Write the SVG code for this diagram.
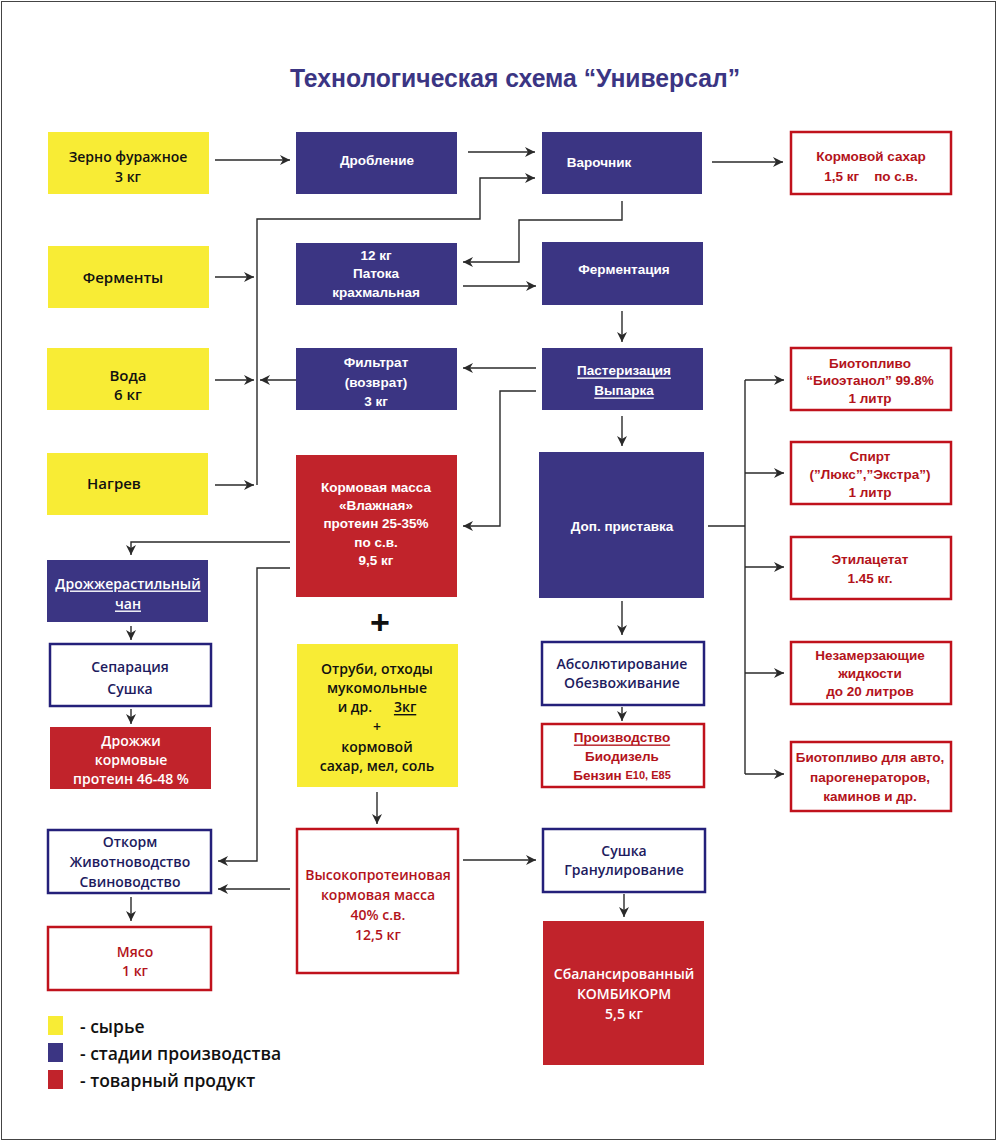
<svg xmlns="http://www.w3.org/2000/svg" width="1000" height="1142" viewBox="0 0 1000 1142">
<defs>
<marker id="ah" viewBox="0 0 10 10" refX="10" refY="5" markerWidth="10" markerHeight="10" markerUnits="userSpaceOnUse" orient="auto">
<path d="M0,0 L10,5 L0,10 L3,5 Z" fill="#2a2a2a"/>
</marker>
<style>
.y{fill:#f8ec35}
.b{fill:#3b3583}
.rf{fill:#c1232b}
.wb{fill:#fff;stroke:#24207a;stroke-width:2.5}
.wr{fill:#fff;stroke:#c0121c;stroke-width:2.5}
text{font-family:"Liberation Sans",Arial,sans-serif;font-weight:bold;font-size:13.5px;text-anchor:middle;dominant-baseline:central}
.tk{fill:#111}
.tw{fill:#fff}
.tn{fill:#1d1b5e}
.tr{fill:#b3131b}
.c{fill:none;stroke:#2a2a2a;stroke-width:1.4}
.a{marker-end:url(#ah)}
.u{text-decoration:underline}
.cal{font-family:"Open Sans","Liberation Sans",sans-serif;font-weight:600}
.big{font-size:15px}
</style>
</defs>
<rect x="0" y="0" width="1000" height="1142" fill="#fff"/>
<rect x="1.5" y="1.5" width="994" height="1138" fill="none" stroke="#444" stroke-width="1"/>
<text x="515" y="78" style="font-size:25px;fill:#3b3583" textLength="450" lengthAdjust="spacingAndGlyphs">Технологическая схема “Универсал”</text>

<g id="connectors">
<path class="c a" d="M215,160 H290"/>
<path class="c a" d="M468,152 H535"/>
<path class="c a" d="M712,162 H783"/>
<path class="c a" d="M257,485 V219 H480 V178 H535"/>
<path class="c a" d="M215,277 H254"/>
<path class="c a" d="M215,380 H254"/>
<path class="c a" d="M296,380 H260"/>
<path class="c a" d="M215,485 H254"/>
<path class="c a" d="M622,201 V220 H519 V262 H463"/>
<path class="c a" d="M463,286 H536"/>
<path class="c a" d="M622,311 V342"/>
<path class="c a" d="M536,368 H463"/>
<path class="c a" d="M536,391 H500 V526 H463"/>
<path class="c a" d="M622,416 V446"/>
<path class="c" d="M708,526 H745"/>
<path class="c" d="M745,380 V774"/>
<path class="c a" d="M745,380 H784"/>
<path class="c a" d="M745,473 H784"/>
<path class="c a" d="M745,567 H784"/>
<path class="c a" d="M745,673 H784"/>
<path class="c a" d="M745,774 H784"/>
<path class="c a" d="M622,601 V635"/>
<path class="c a" d="M622,707 V721"/>
<path class="c a" d="M290,542 H131 V555"/>
<path class="c a" d="M131,626 V640"/>
<path class="c a" d="M131,709 V724"/>
<path class="c a" d="M290,568 H257 V861 H218"/>
<path class="c a" d="M290,889 H218"/>
<path class="c a" d="M131,897 V921"/>
<path class="c a" d="M377,792 V824"/>
<path class="c a" d="M463,860 H536"/>
<path class="c a" d="M624,894 V917"/>
</g>

<g id="n-zerno"><rect class="y" x="48" y="132" width="161" height="62"/><text class="tk cal" x="128" y="156" style="font-size:14px">Зерно фуражное</text><text class="tk cal" x="128" y="176" style="font-size:14px">3 кг</text></g>
<g id="n-droblenie"><rect class="b" x="296" y="132" width="161" height="62"/><text class="tw" x="377" y="160">Дробление</text></g>
<g id="n-varochnik"><rect class="b" x="542" y="132" width="160" height="62"/><text class="tw" x="599" y="162">Варочник</text></g>
<g id="n-sahar"><rect class="wr" x="791" y="132" width="160" height="62"/><text class="tr" x="871" y="156">Кормовой сахар</text><text class="tr" x="871" y="176" xml:space="preserve">1,5 кг    по с.в.</text></g>
<g id="n-fermenty"><rect class="y" x="48" y="246" width="161" height="62"/><text class="tk cal big" x="123" y="277">Ферменты</text></g>
<g id="n-patoka"><rect class="b" x="296" y="243" width="161" height="62"/><text class="tw" x="376" y="255">12 кг</text><text class="tw" x="376" y="273">Патока</text><text class="tw" x="376" y="292">крахмальная</text></g>
<g id="n-fermentacia"><rect class="b" x="542" y="242" width="161" height="63"/><text class="tw" x="624" y="269">Ферментация</text></g>
<g id="n-voda"><rect class="y" x="47" y="348" width="162" height="62"/><text class="tk cal big" x="128" y="375">Вода</text><text class="tk cal big" x="128" y="394">6 кг</text></g>
<g id="n-filtrat"><rect class="b" x="296" y="348" width="161" height="62"/><text class="tw" x="376" y="362">Фильтрат</text><text class="tw" x="376" y="382">(возврат)</text><text class="tw" x="376" y="401">3 кг</text></g>
<g id="n-pasterizacia"><rect class="b" x="542" y="348" width="161" height="62"/><text class="tw u" x="624" y="370">Пастеризация</text><text class="tw u" x="624" y="390">Выпарка</text></g>
<g id="n-nagrev"><rect class="y" x="47" y="453" width="161" height="62"/><text class="tk cal big" x="114" y="483">Нагрев</text></g>
<g id="n-kormmassa"><rect class="rf" x="296" y="455" width="161" height="142"/><text class="tw" x="376" y="487">Кормовая масса</text><text class="tw" x="376" y="505">«Влажная»</text><text class="tw" x="376" y="523">протеин 25-35%</text><text class="tw" x="376" y="542">по с.в.</text><text class="tw" x="376" y="560">9,5 кг</text></g>
<g id="n-dop"><rect class="b" x="539" y="452" width="165" height="146"/><text class="tw" x="622" y="526">Доп. приставка</text></g>
<g id="n-bioetanol"><rect class="wr" x="791" y="348" width="160" height="62"/><text class="tr" x="870" y="363">Биотопливо</text><text class="tr" x="870" y="380">“Биоэтанол” 99.8%</text><text class="tr" x="870" y="398">1 литр</text></g>
<g id="n-spirt"><rect class="wr" x="791" y="442" width="160" height="62"/><text class="tr" x="870" y="456">Спирт</text><text class="tr" x="870" y="474">(”Люкс”,”Экстра”)</text><text class="tr" x="870" y="492">1 литр</text></g>
<g id="n-etil"><rect class="wr" x="791" y="537" width="160" height="62"/><text class="tr" x="870" y="559">Этилацетат</text><text class="tr" x="870" y="578">1.45 кг.</text></g>
<g id="n-nezamerz"><rect class="wr" x="791" y="642" width="160" height="62"/><text class="tr" x="870" y="655">Незамерзающие</text><text class="tr" x="870" y="673">жидкости</text><text class="tr" x="870" y="691">до 20 литров</text></g>
<g id="n-bioavto"><rect class="wr" x="791" y="742" width="160" height="69"/><text class="tr" x="870" y="757">Биотопливо для авто,</text><text class="tr" x="870" y="777">парогенераторов,</text><text class="tr" x="870" y="796">каминов и др.</text></g>
<g id="n-drozhchan"><rect class="b" x="47" y="560" width="161" height="62"/><text class="tw u cal" x="128" y="583" style="font-size:14px">Дрожжерастильный</text><text class="tw u cal" x="128" y="603" style="font-size:14px">чан</text></g>
<g id="n-separacia"><rect class="wb" x="50" y="644" width="161" height="62"/><text class="tn cal" x="130" y="666" style="font-size:14px">Сепарация</text><text class="tn cal" x="130" y="688" style="font-size:14px">Сушка</text></g>
<g id="n-drozhzhi"><rect class="rf" x="50" y="727" width="161" height="62"/><text class="tw cal" x="131" y="740" style="font-size:14px">Дрожжи</text><text class="tw cal" x="131" y="759" style="font-size:14px">кормовые</text><text class="tw cal" x="131" y="778" style="font-size:14px">протеин 46-48 %</text></g>
<g id="n-plus"><text x="380" y="622" style="font-size:34px;fill:#111;font-weight:bold">+</text></g>
<g id="n-otrubi"><rect class="y" x="297" y="644" width="161" height="143"/><text class="tk cal" x="377" y="668" style="font-size:14px">Отруби, отходы</text><text class="tk cal" x="377" y="687" style="font-size:14px">мукомольные</text><text class="tk cal" x="377" y="706" xml:space="preserve" style="font-size:14px">и др.      <tspan class="u">3кг</tspan></text><text class="tk cal" x="377" y="726" style="font-size:14px">+</text><text class="tk cal" x="377" y="746" style="font-size:14px">кормовой</text><text class="tk cal" x="377" y="765" style="font-size:14px">сахар, мел, соль</text></g>
<g id="n-absolut"><rect class="wb" x="542" y="642" width="162" height="63"/><text class="tn cal" x="622" y="663" style="font-size:14px">Абсолютирование</text><text class="tn cal" x="622" y="682" style="font-size:14px">Обезвоживание</text></g>
<g id="n-proizvodstvo"><rect class="wr" x="542" y="724" width="162" height="63"/><text class="tr u" x="622" y="737">Производство</text><text class="tr" x="622" y="756">Биодизель</text><text class="tr" x="622" y="775">Бензин  <tspan style="font-size:11px">E10, E85</tspan></text></g>
<g id="n-otkorm"><rect class="wb" x="48" y="830" width="163" height="63"/><text class="tn cal" x="130" y="841" style="font-size:14px">Откорм</text><text class="tn cal" x="130" y="861" style="font-size:14px">Животноводство</text><text class="tn cal" x="130" y="881" style="font-size:14px">Свиноводство</text></g>
<g id="n-myaso"><rect class="wr" x="48" y="927" width="163" height="63"/><text class="tr cal" x="135" y="951" style="font-size:14px">Мясо</text><text class="tr cal" x="135" y="970" style="font-size:14px">1 кг</text></g>
<g id="n-vysokoprot"><rect class="wr" x="297" y="829" width="161" height="144"/><text class="tr cal" x="378" y="874" style="font-size:14px">Высокопротеиновая</text><text class="tr cal" x="378" y="894" style="font-size:14px">кормовая масса</text><text class="tr cal" x="378" y="914" style="font-size:14px">40% с.в.</text><text class="tr cal" x="378" y="934" style="font-size:14px">12,5 кг</text></g>
<g id="n-sushka"><rect class="wb" x="543" y="829" width="162" height="63"/><text class="tn cal" x="624" y="850" style="font-size:14px">Сушка</text><text class="tn cal" x="624" y="869" style="font-size:14px">Гранулирование</text></g>
<g id="n-kombikorm"><rect class="rf" x="543" y="921" width="161" height="144"/><text class="tw cal" x="624" y="973" style="font-size:14px">Сбалансированный</text><text class="tw cal" x="624" y="993" style="font-size:14px">КОМБИКОРМ</text><text class="tw cal" x="624" y="1013" style="font-size:14px">5,5 кг</text></g>

<g id="legend">
<rect class="y" x="48" y="1016" width="15" height="19"/>
<rect class="b" x="48" y="1043" width="15" height="19"/>
<rect class="rf" x="48" y="1070" width="15" height="19"/>
<text class="cal" x="80" y="1026" style="font-size:17.5px;fill:#111;text-anchor:start">- сырье</text>
<text class="cal" x="80" y="1053" style="font-size:17.5px;fill:#111;text-anchor:start">- стадии производства</text>
<text class="cal" x="80" y="1080" style="font-size:17.5px;fill:#111;text-anchor:start">- товарный продукт</text>
</g>
</svg>
